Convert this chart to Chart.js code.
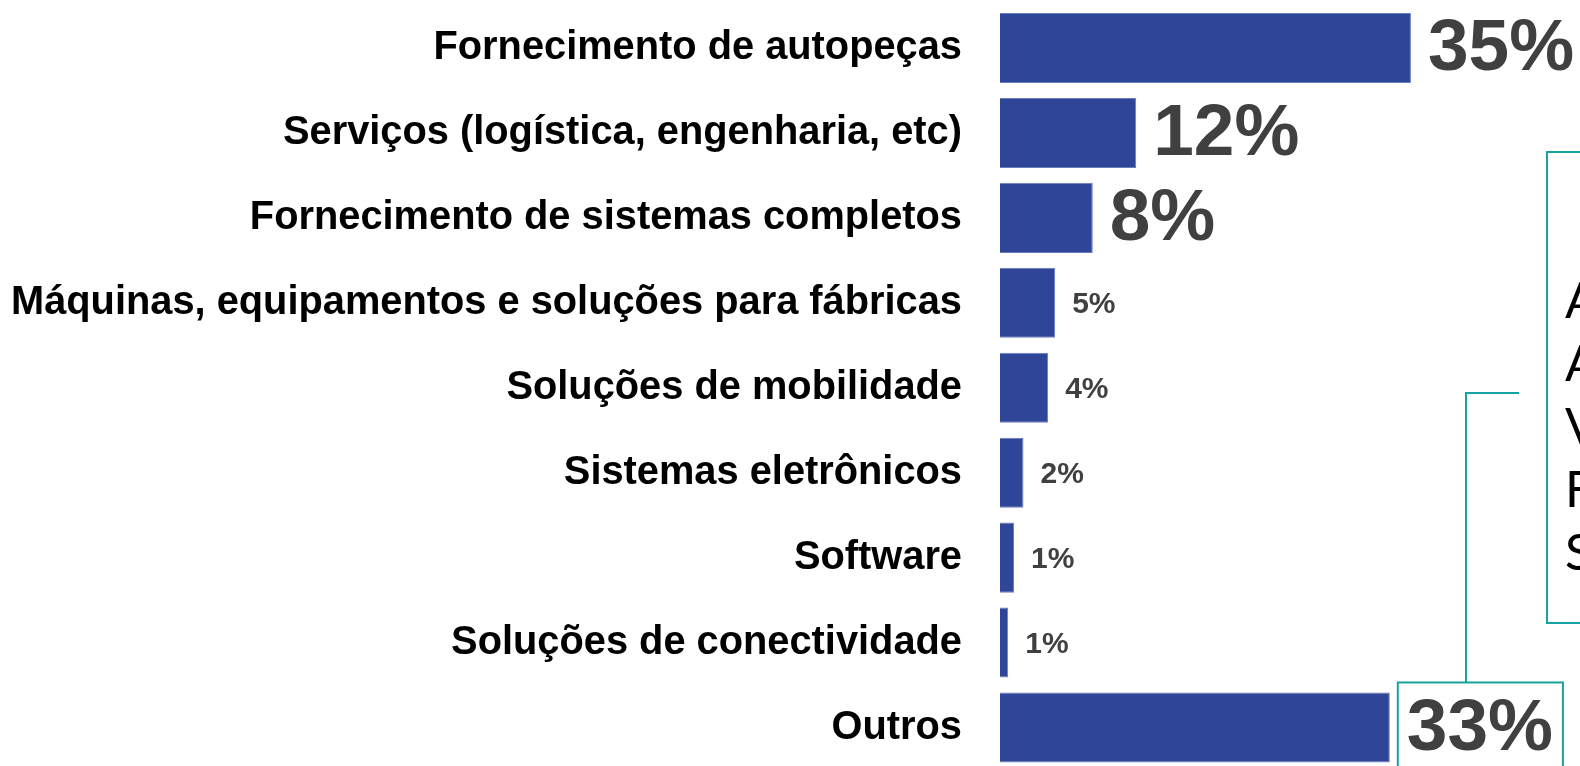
<!DOCTYPE html>
<html lang="pt">
<head>
    <meta charset="utf-8">
    <title>Distribuição</title>
    <script src="https://cdn.jsdelivr.net/npm/chart.js"></script>
    <style>
        html, body { margin: 0; padding: 0; background: #fff; overflow: hidden; }
        .chart-container { position: relative; width: 1580px; height: 770px; }
    </style>
</head>
<body>
    <div class="chart-container">
        <canvas id="myChart"></canvas>
    </div>
    <script>
        // categorias e valores
        const categories = [
            'Fornecimento de autopeças',
            'Serviços (logística, engenharia, etc)',
            'Fornecimento de sistemas completos',
            'Máquinas, equipamentos e soluções para fábricas',
            'Soluções de mobilidade',
            'Sistemas eletrônicos',
            'Software',
            'Soluções de conectividade',
            'Outros'
        ];
        const shares = [35, 11.6, 7.9, 4.7, 4.1, 2.0, 1.2, 0.7, 33.2];
        const shareLabels = ['35%', '12%', '8%', '5%', '4%', '2%', '1%', '1%', '33%'];
        // texto da caixa à direita (cortado na borda)
        const calloutLines = ['A', 'A', 'V', 'F', 'S'];

        const barColor = '#2E4598';
        const teal = '#17A3A0';

        // rótulos de valor à direita das barras
        const valueLabels = {
            id: 'valueLabels',
            afterDatasetsDraw(chart) {
                const ctx = chart.ctx;
                const bars = chart.getDatasetMeta(0).data;
                ctx.save();
                ctx.fillStyle = '#404040';
                ctx.textBaseline = 'middle';
                ctx.textAlign = 'left';
                bars.forEach((bar, i) => {
                    const size = shares[i] > 6 ? 73 : 30;
                    ctx.font = 'bold ' + size + 'px "Liberation Sans", Arial, sans-serif';
                    ctx.fillText(shareLabels[i], bar.x + 17, bar.y + 2);
                });
                ctx.restore();
            }
        };

        // caixa de destaque e linha de ligação
        const callout = {
            id: 'callout',
            afterDraw(chart) {
                const ctx = chart.ctx;
                const bars = chart.getDatasetMeta(0).data;
                const last = bars[bars.length - 1];
                ctx.save();
                ctx.strokeStyle = teal;
                ctx.lineWidth = 2;

                // caixa em volta do "33%"
                ctx.font = 'bold 73px "Liberation Sans", Arial, sans-serif';
                const w = ctx.measureText(shareLabels[shareLabels.length - 1]).width;
                const boxLeft = last.x + 8;
                const boxTop = last.y - last.height / 2 - 10;
                const boxRight = last.x + 17 + w + 10;
                ctx.strokeRect(boxLeft, boxTop, boxRight - boxLeft, 200);

                // linha até a caixa de texto
                ctx.beginPath();
                ctx.moveTo(1466, boxTop);
                ctx.lineTo(1466, 393);
                ctx.lineTo(1519, 393);
                ctx.stroke();

                // caixa de texto
                ctx.strokeRect(1547, 152, 100, 471);
                ctx.fillStyle = '#000';
                ctx.font = '50px Lato, "Open Sans", sans-serif';
                ctx.textAlign = 'left';
                ctx.textBaseline = 'alphabetic';
                calloutLines.forEach((t, i) => {
                    ctx.fillText(t, 1565, 318 + i * 63);
                });
                ctx.restore();
            }
        };

        new Chart(document.getElementById('myChart'), {
            type: 'bar',
            data: {
                labels: categories,
                datasets: [{
                    data: shares,
                    backgroundColor: barColor,
                    borderColor: '#6A7BBE',
                    borderWidth: 1,
                    barPercentage: 0.825,
                    categoryPercentage: 1
                }]
            },
            options: {
                indexAxis: 'y',
                responsive: true,
                maintainAspectRatio: false,
                animation: false,
                layout: { padding: { top: 5.5, right: 0, bottom: 0, left: 0 } },
                plugins: {
                    legend: { display: false },
                    tooltip: { enabled: false }
                },
                scales: {
                    x: {
                        display: false,
                        min: 0,
                        max: 49.4
                    },
                    y: {
                        grid: { display: false, drawTicks: false },
                        border: { display: false },
                        ticks: {
                            color: '#000',
                            padding: 38,
                            font: { family: '"Liberation Sans", Arial, sans-serif', size: 39.8, weight: 'bold' }
                        },
                        afterFit(scale) {
                            // largura fixa do eixo e sem folga extra em cima/baixo
                            scale.width = 1000;
                            scale.paddingTop = 0;
                            scale.paddingBottom = 0;
                        }
                    }
                }
            },
            plugins: [valueLabels, callout]
        });
    </script>
</body>
</html>
